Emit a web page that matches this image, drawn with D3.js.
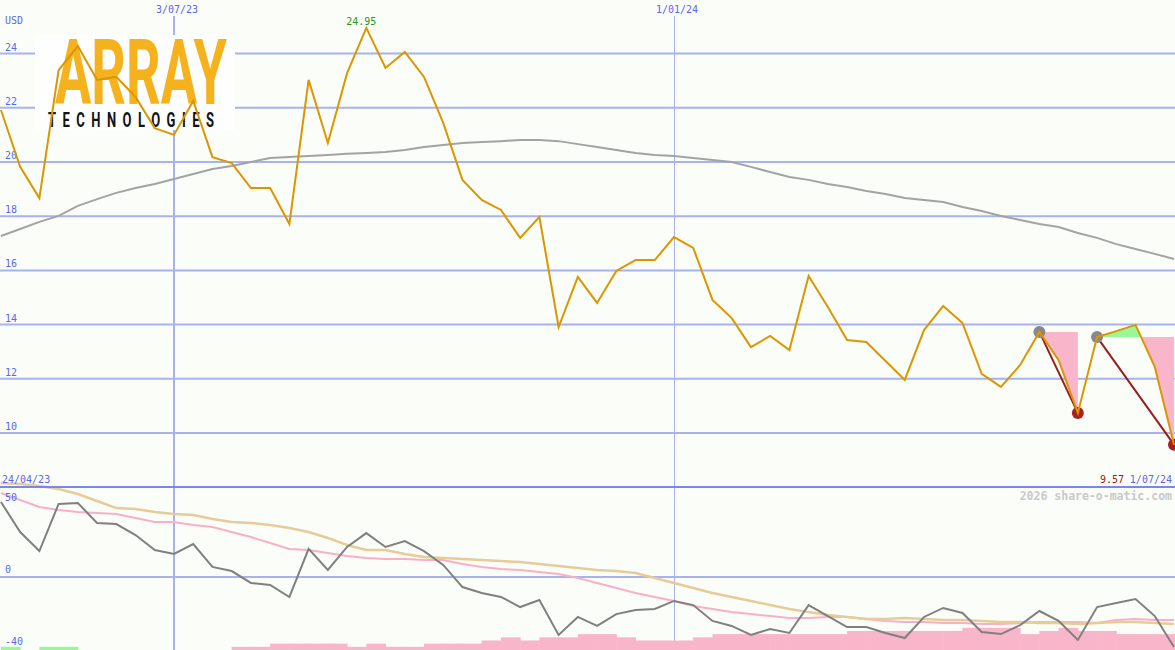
<!DOCTYPE html>
<html><head><meta charset="utf-8">
<script src="https://cdn.jsdelivr.net/npm/d3@7"></script>
<style>html,body{margin:0;padding:0;background:#fbfdf8;}svg{display:block;}</style>
</head><body>
<svg id="chart" width="1175" height="650"></svg>
<script>
// ---------- DATA ----------
const dates = ["2023-05-01","2023-05-08","2023-05-15","2023-05-22","2023-05-29",
"2023-06-05","2023-06-12","2023-06-19","2023-06-26",
"2023-07-03","2023-07-10","2023-07-17","2023-07-24","2023-07-31",
"2023-08-07","2023-08-14","2023-08-21","2023-08-28",
"2023-09-04","2023-09-11","2023-09-18","2023-09-25",
"2023-10-02","2023-10-09","2023-10-16","2023-10-23","2023-10-30",
"2023-11-06","2023-11-13","2023-11-20","2023-11-27",
"2023-12-04","2023-12-11","2023-12-18","2023-12-25",
"2024-01-01","2024-01-08","2024-01-15","2024-01-22","2024-01-29",
"2024-02-05","2024-02-12","2024-02-19","2024-02-26",
"2024-03-04","2024-03-11","2024-03-18","2024-03-25",
"2024-04-01","2024-04-08","2024-04-15","2024-04-22","2024-04-29",
"2024-05-06","2024-05-13","2024-05-20","2024-05-27",
"2024-06-03","2024-06-10","2024-06-17","2024-06-24","2024-07-01"];

const price = [21.92,19.82,18.67,23.39,24.28,23.03,23.14,22.40,21.25,21.00,
22.25,20.18,19.96,19.04,19.04,17.71,23.03,20.70,23.28,24.95,
23.47,24.06,23.14,21.44,19.34,18.60,18.23,17.20,17.97,13.91,
15.76,14.80,15.98,16.38,16.38,17.23,16.83,14.91,14.24,13.17,
13.58,13.06,15.79,14.65,13.43,13.36,12.66,11.96,13.80,14.69,
14.06,12.18,11.70,12.51,13.73,12.69,10.74,13.54,13.76,13.99,
12.44,9.57];

const priceMA = [17.27,17.53,17.79,18.01,18.38,18.63,18.86,19.04,19.19,19.37,
19.56,19.74,19.85,20.00,20.15,20.18,20.22,20.26,20.30,20.33,
20.37,20.44,20.55,20.63,20.70,20.74,20.77,20.81,20.81,20.77,
20.66,20.55,20.44,20.33,20.26,20.22,20.15,20.07,20.00,19.82,
19.63,19.45,19.34,19.19,19.08,18.93,18.82,18.67,18.60,18.52,
18.34,18.19,18.01,17.86,17.71,17.60,17.38,17.20,16.97,16.79,
16.61,16.42];

const oscFast = [41.7,25.0,14.4,40.6,41.1,30.0,29.4,23.3,15.0,12.8,
18.3,5.6,3.3,-3.3,-4.4,-11.1,15.6,3.9,16.7,24.4,
16.7,20.0,14.4,6.7,-5.6,-8.9,-11.1,-16.7,-12.8,-32.2,
-22.2,-27.2,-20.6,-18.3,-17.8,-13.3,-15.6,-24.4,-27.2,-32.2,
-28.9,-31.1,-15.6,-21.7,-27.8,-27.8,-31.1,-33.9,-22.2,-17.2,
-20.0,-30.6,-31.7,-26.7,-18.9,-24.4,-35.0,-16.7,-14.4,-12.2,
-21.7,-38.9];

const oscSlow = [52.2,51.7,50.6,48.9,46.1,42.2,38.3,37.8,36.1,35.0,
34.4,32.2,30.6,30.0,28.9,27.2,25.0,21.7,17.8,15.0,
15.0,12.8,11.1,10.6,10.0,9.4,8.9,8.3,7.2,6.1,
5.0,3.9,3.3,2.2,-0.6,-3.3,-6.1,-8.9,-11.1,-13.3,
-15.6,-17.8,-19.4,-21.1,-22.2,-23.3,-23.3,-22.8,-23.3,-23.9,
-23.9,-24.4,-25.0,-25.0,-25.6,-25.6,-26.1,-25.6,-25.0,-25.0,
-25.6,-26.1];

const oscSignal = [46.7,42.8,38.9,37.2,36.1,35.6,35.0,32.8,30.6,30.6,
28.9,27.8,25.0,22.2,18.9,15.6,15.0,13.3,11.7,10.6,
10.0,10.0,9.4,9.4,7.2,5.6,4.4,3.9,2.8,1.7,
-0.6,-3.3,-6.1,-8.9,-11.1,-13.3,-16.1,-17.8,-19.4,-20.6,
-21.7,-22.8,-22.8,-22.2,-22.2,-23.3,-24.4,-25.0,-25.0,-25.6,
-25.6,-26.1,-26.1,-25.6,-25.0,-25.0,-25.0,-25.6,-23.9,-23.3,
-23.9,-23.9];

const barVals = [1,0,1,1, 0,0,0,0,0,0,0,0,
-1,-1,-2,-2,-2,-2,-1,-2,-1,-1,
-2,-2,-2,-3,-4,-3,-4,-4,-5,-5,
-4,-3,-3,-3,-4,-5,-5,-5,-5,-5,
-5,-5,-6,-6,-6,-6,-6,-6,-7,-7,
-7,-5,-6,-7,-6,-6,-5,-5,-5,-5];

const priceTicks = [10,12,14,16,18,20,22,24];
const oscTicks = [50,0,-40];
const dateTicks = ["2023-07-03","2024-01-01"];
const dateTickLabels = ["3/07/23","1/01/24"];
const pivotRanges = [[54,56],[57,61]];
const currency = "USD";
const startLabel = "24/04/23";
const endLabel = "1/07/24";
const watermark = "2026 share-o-matic.com";

// ---------- SETUP ----------
const W = 1175, H = 650;
const parse = d3.utcParse("%Y-%m-%d");
const dt = dates.map(parse);
const svg = d3.select("#chart");
const mono = "'DejaVu Sans Mono', monospace";
const blue = "#5a68f0";
const gridC = "#a6b3f0";

const x = d3.scaleUtc().domain([parse("2023-07-03"), parse("2024-07-01")]).range([174, 1174]);
const y = d3.scaleLinear().domain([10, 24]).range([433, 53.6]);
const yo = d3.scaleLinear().domain([-40, 50]).range([649, 487]);
const yb = d3.scaleLinear().domain([0, 7]).range([0, 22.2]);
const step = x(dt[1]) - x(dt[0]);

svg.append("rect").attr("width", W).attr("height", H).attr("fill", "#fbfdf8");

// horizontal grid (price)
const gP = svg.append("g");
gP.selectAll("line").data(priceTicks).join("line")
  .attr("x1", 0).attr("x2", W).attr("y1", d => y(d)).attr("y2", d => y(d))
  .attr("stroke", gridC).attr("stroke-width", 2);
// oscillator zero line
svg.append("line").attr("x1", 0).attr("x2", W).attr("y1", yo(0)).attr("y2", yo(0))
  .attr("stroke", gridC).attr("stroke-width", 2);

// vertical date grid
dateTicks.forEach((d, i) => {
  const xx = Math.round(x(parse(d)));
  svg.append("line").attr("x1", xx + (i === 0 ? 0 : 0.5)).attr("x2", xx + (i === 0 ? 0 : 0.5))
    .attr("y1", 16).attr("y2", H)
    .attr("stroke", gridC).attr("stroke-width", i === 0 ? 2 : 1);
  svg.append("text").attr("x", xx + 3).attr("y", 13).attr("text-anchor", "middle")
    .attr("font-family", mono).attr("font-size", 10).attr("fill", blue).text(dateTickLabels[i]);
});

// logo
const logo = svg.append("g");
logo.append("rect").attr("x", 35).attr("y", 35).attr("width", 200).attr("height", 95).attr("fill", "#fefefe");
logo.append("text").attr("x", 55).attr("y", 104)
  .attr("font-family", "Roboto, 'Liberation Sans', sans-serif").attr("font-weight", 700)
  .attr("font-size", 90).attr("fill", "#f6b21c")
  .attr("textLength", 172).attr("lengthAdjust", "spacingAndGlyphs").text("ARRAY");
logo.append("text").attr("transform", "translate(48,127) scale(0.62,1)")
  .attr("x", 0).attr("y", 0)
  .attr("font-family", "Roboto, 'Liberation Sans', sans-serif").attr("font-weight", 700)
  .attr("font-size", 21).attr("fill", "#141414")
  .attr("textLength", 166 / 0.62).attr("lengthAdjust", "spacing").text("TECHNOLOGIES");

// price axis labels
svg.selectAll("text.pl").data(priceTicks).join("text").attr("class", "pl")
  .attr("x", 5).attr("y", d => y(d) - 3)
  .attr("font-family", mono).attr("font-size", 10).attr("fill", blue).text(d => d);
svg.append("text").attr("x", 5).attr("y", 24).attr("font-family", mono).attr("font-size", 10)
  .attr("fill", blue).text(currency);

// ---------- LOWER PANEL ----------
const barG = svg.append("g");
barG.selectAll("rect").data(barVals.map((v, i) => ({v, i})).filter(d => d.v !== 0)).join("rect")
  .attr("x", d => x(dt[d.i])).attr("width", step + 0.5)
  .attr("y", d => H - yb(Math.abs(d.v))).attr("height", d => yb(Math.abs(d.v)))
  .attr("fill", d => d.v > 0 ? "#98f898" : "#f9b5c9");

const lo = arr => d3.line().x((d, i) => x(dt[i])).y(d => yo(d))(arr);
svg.append("path").attr("d", lo(oscSignal)).attr("fill", "none").attr("stroke", "#f8b0c8").attr("stroke-width", 2);
svg.append("path").attr("d", lo(oscSlow)).attr("fill", "none").attr("stroke", "#e6cc98").attr("stroke-width", 2.5);
svg.append("path").attr("d", lo(oscFast)).attr("fill", "none").attr("stroke", "#808080").attr("stroke-width", 2);

// separator
svg.append("line").attr("x1", 0).attr("x2", W).attr("y1", yo(50)).attr("y2", yo(50))
  .attr("stroke", "#7986f0").attr("stroke-width", 2);

// oscillator labels
svg.selectAll("text.ol").data(oscTicks).join("text").attr("class", "ol")
  .attr("x", 5).attr("y", d => d === 50 ? yo(d) + 14 : yo(d) - 4)
  .attr("font-family", mono).attr("font-size", 10).attr("fill", blue).text(d => d);

svg.append("text").attr("x", 2).attr("y", 483).attr("font-family", mono).attr("font-size", 10)
  .attr("fill", blue).text(startLabel);
svg.append("text").attr("x", 1172).attr("y", 483).attr("text-anchor", "end").attr("font-family", mono)
  .attr("font-size", 10).attr("fill", blue).text(endLabel);
svg.append("text").attr("x", 1124).attr("y", 483).attr("text-anchor", "end").attr("font-family", mono)
  .attr("font-size", 10).attr("fill", "#a01818").text(price[price.length - 1].toFixed(2));
svg.append("text").attr("x", 1172).attr("y", 500).attr("text-anchor", "end").attr("font-family", mono)
  .attr("font-size", 11.5).attr("font-weight", 700).attr("fill", "#c9c9c9").text(watermark);

// ---------- PRICE PANEL ----------
const lp = d3.line().x((d, i) => x(dt[i])).y(d => y(d));
svg.append("path").attr("d", lp(priceMA)).attr("fill", "none").attr("stroke", "#a3a3a3").attr("stroke-width", 2);

// pivot fills
const defs = svg.append("defs");
pivotRanges.forEach(([a, b], k) => {
  const lvl = price[a];
  const seg = d3.range(a, b + 1);
  const area = d3.area().x(i => x(dt[i])).y0(y(lvl)).y1(i => y(price[i]));
  defs.append("clipPath").attr("id", "above" + k).append("rect")
    .attr("x", 0).attr("y", 0).attr("width", W).attr("height", y(lvl));
  defs.append("clipPath").attr("id", "below" + k).append("rect")
    .attr("x", 0).attr("y", y(lvl)).attr("width", W).attr("height", H);
  svg.append("path").attr("d", area(seg)).attr("fill", "#98f898").attr("clip-path", `url(#above${k})`);
  svg.append("path").attr("d", area(seg)).attr("fill", "#f9b5c9").attr("clip-path", `url(#below${k})`);
  svg.append("line").attr("x1", x(dt[a])).attr("y1", y(price[a])).attr("x2", x(dt[b])).attr("y2", y(price[b]))
    .attr("stroke", "#9c1c1c").attr("stroke-width", 2);
  svg.append("circle").attr("cx", x(dt[a])).attr("cy", y(price[a])).attr("r", 6).attr("fill", "#888888");
  svg.append("circle").attr("cx", x(dt[b])).attr("cy", y(price[b])).attr("r", 6).attr("fill", "#aa2020");
});

svg.append("path").attr("d", lp(price)).attr("fill", "none").attr("stroke", "#db9600").attr("stroke-width", 2);

// peak label
const pk = d3.maxIndex(price);
svg.append("text").attr("x", x(dt[pk]) - 5).attr("y", y(price[pk]) - 3).attr("text-anchor", "middle")
  .attr("font-family", mono).attr("font-size", 10).attr("fill", "#229922").text(price[pk].toFixed(2));
</script>
</body></html>
